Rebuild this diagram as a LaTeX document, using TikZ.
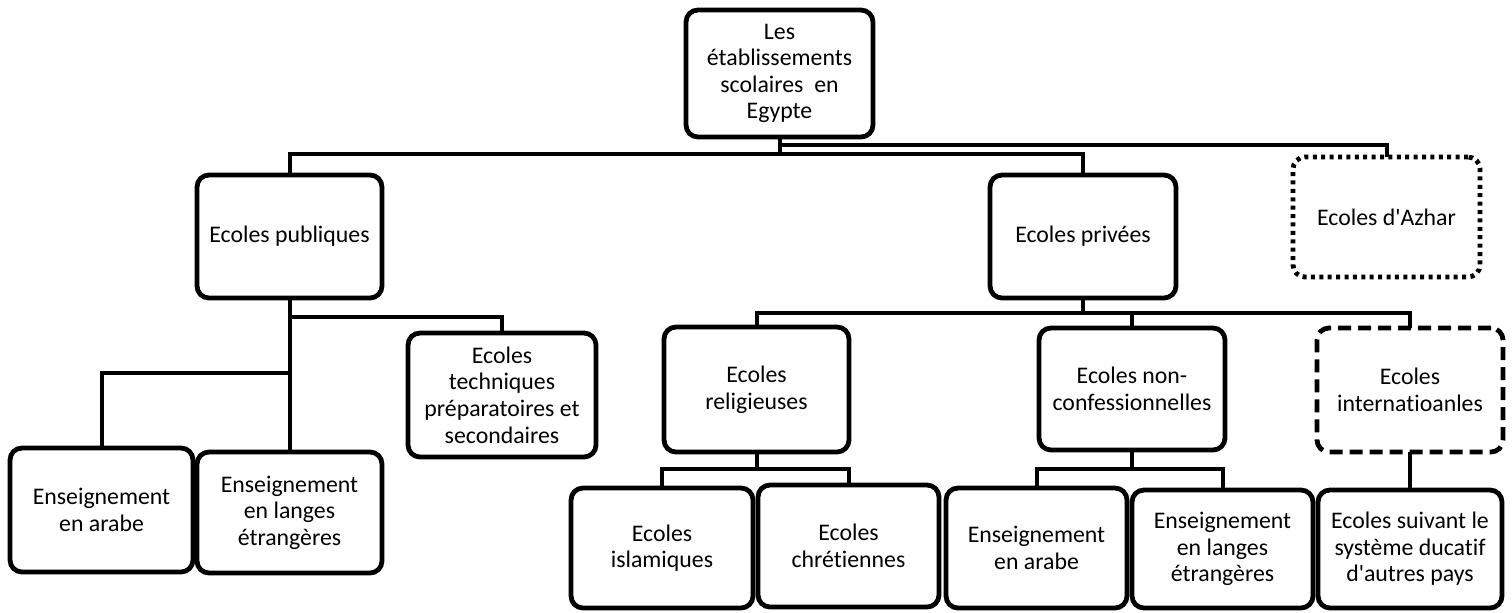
\documentclass[tikz,border=0pt]{standalone}
\usepackage{fontspec}
\setmainfont{Carlito}[Ligatures={NoCommon}]
\tikzset{
  box/.style={draw, line width=2.4pt, rounded corners=6pt, align=center,
    inner sep=0pt, outer sep=0pt, font=\fontsize{11.9}{13.3}\selectfont},
  dotbox/.style={box, dash pattern=on 2pt off 2.2pt},
  dashbox/.style={box, dash pattern=on 6.5pt off 3.5pt},
  conn/.style={line width=2pt},
}
\begin{document}
\begin{tikzpicture}[x=0.5pt,y=-0.5pt]
\useasboundingbox (0,0) rectangle (1512,612);
% level 0
\node[box, minimum width=93.5pt, minimum height=63.5pt] (top) at (779.5,73.5) {Les\\établissements\\scolaires\ \ en\\Egypte};
% level 1
\node[box, minimum width=92.5pt, minimum height=61.5pt] (pub) at (289.5,236.5) {Ecoles publiques};
\node[box, minimum width=93pt, minimum height=61.5pt] (priv) at (1083,236.5) {Ecoles privées};
\node[dotbox, minimum width=93.5pt, minimum height=60pt] (azhar) at (1386.5,217) {Ecoles d\textquotesingle Azhar};
% public branch
\node[box, minimum width=94pt, minimum height=62pt] (tech) at (502,395) {Ecoles\\techniques\\préparatoires et\\secondaires};
\node[box, minimum width=91.5pt, minimum height=62pt] (arabeL) at (101.5,510) {Enseignement\\en arabe};
\node[box, minimum width=92.5pt, minimum height=60.5pt] (langesL) at (289.5,512.5) {Enseignement\\en langes\\étrangères};
% private branch
\node[box, minimum width=92.5pt, minimum height=62.5pt] (rel) at (756.5,389.5) {Ecoles\\religieuses};
\node[box, minimum width=93pt, minimum height=61pt] (nonconf) at (1132,389) {Ecoles non-\\confessionnelles};
\node[dashbox, minimum width=93pt, minimum height=62pt] (intl) at (1410,390) {Ecoles\\internatioanles};
% bottom row
\node[box, minimum width=91pt, minimum height=60pt] (isl) at (662,548) {Ecoles\\islamiques};
\node[box, minimum width=90.5pt, minimum height=61pt] (chr) at (848.5,546) {Ecoles\\chrétiennes};
\node[box, minimum width=90.5pt, minimum height=60pt] (arabeR) at (1036.5,548) {Enseignement\\en arabe};
\node[box, minimum width=90.5pt, minimum height=59pt] (langesR) at (1222.5,549) {Enseignement\\en langes\\étrangères};
\node[box, minimum width=92pt, minimum height=59pt] (suiv) at (1410,549) {Ecoles suivant le\\système ducatif\\d\textquotesingle autres pays};
% connectors
\draw[conn] (top.south) -- ++(0,17) -| (pub.north);
\draw[conn] (top.south) -- ++(0,17) -| (priv.north);
\draw[conn] (top.south) -- ++(0,8) -| (azhar.north);
\draw[conn] (pub.south) -- ++(0,19) -| (tech.north);
\draw[conn] (pub.south) -- ++(0,75) -| (arabeL.north);
\draw[conn] (pub.south) -- (langesL.north);
\draw[conn] (priv.south) -- ++(0,15) -| (rel.north);
\draw[conn] (priv.south) -- ++(0,15) -| (nonconf.north);
\draw[conn] (priv.south) -- ++(0,15) -| (intl.north);
\draw[conn] (rel.south) -- ++(0,17) -| (isl.north);
\draw[conn] (rel.south) -- ++(0,17) -| (chr.north);
\draw[conn] (nonconf.south) -- ++(0,19) -| (arabeR.north);
\draw[conn] (nonconf.south) -- ++(0,19) -| (langesR.north);
\draw[conn] (intl.south) -- (suiv.north);
\end{tikzpicture}
\end{document}
